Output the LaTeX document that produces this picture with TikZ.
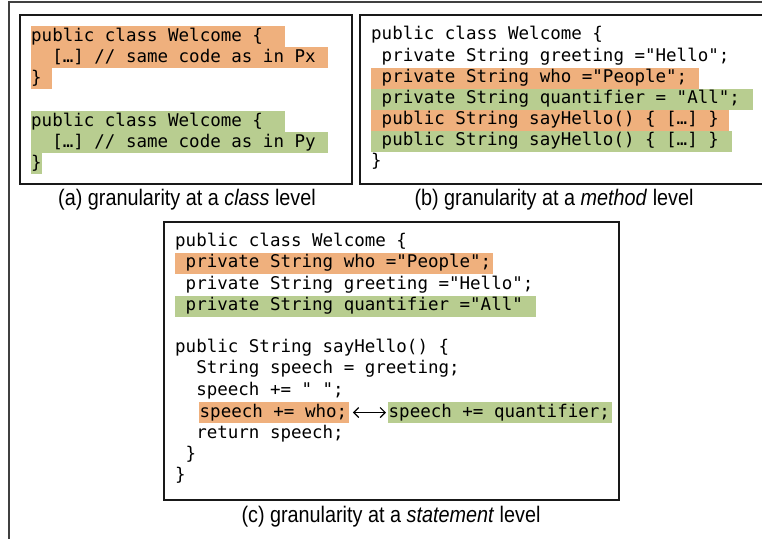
\documentclass[tikz,border=0pt]{standalone}
\usepackage{fontspec}
\setmonofont{DejaVu Sans Mono}
\newfontfamily\capfont[FakeStretch=0.88]{Liberation Sans}
\usepackage{xcolor}
\usetikzlibrary{arrows.meta, positioning}

\definecolor{hlorange}{RGB}{239,176,125}
\definecolor{hlgreen}{RGB}{184,205,144}

\begin{document}
\begin{tikzpicture}[
		x=1pt, y=-1pt,
		frame/.style={
			draw=black!75,
			line width=1.8pt
		},
		panel/.style={
			draw=black!90,
			line width=1.5pt
		},
		codeline/.style={
			anchor=west,
			inner sep=0pt,
			minimum height=21pt,
			text height=13pt,
			text depth=4pt,
			align=flush left,
			font=\ttfamily\fontsize{17.5}{21}\selectfont
		},
		px/.style={
			codeline,
			fill=hlorange
		},
		py/.style={
			codeline,
			fill=hlgreen
		},
		caption/.style={
			font=\capfont\fontsize{22.5}{26}\selectfont
		},
		arrow/.style={
			line width=1.2pt,
			{Straight Barb[length=5pt,width=10pt]}-{Straight Barb[length=5pt,width=10pt]},
			shorten <=4pt,
			shorten >=2pt
		}
	]
	
	\useasboundingbox (0,0) rectangle (762,539);
	\draw[frame] (762,2) -- (9,2) -- (9,539);
	
	% (a) class level
	\draw[panel] (20,15) rectangle (352,184);
	\node[px, text width=254pt] (a1) at (31,36.5) {public class Welcome \{};
	\node[px, text width=297pt] (a2) at (31,57.5) {~~[…] // same code as in Px};
	\node[px, text width=21pt] (a3) at (31,78.5) {\}};
	\node[py, text width=254pt] (a4) at (31,121.5) {public class Welcome \{};
	\node[py, text width=297pt] (a5) at (31,142.5) {~~[…] // same code as in Py};
	\node[py, text width=11pt] (a6) at (31,163.5) {\}};
	\node[caption] (capa) at (187,200) {(a) granularity at a \textit{class} level};
	
	% (b) method level
	\draw[panel] (762,15) -- (360,15) -- (360,184) -- (762,184);
	\node[codeline] (b1) at (371,35) {public class Welcome \{};
	\node[codeline] (b2) at (371,56.5) {~private String greeting ="Hello";};
	\node[px, text width=328pt] (b3) at (371,78) {~private String who ="People";};
	\node[py, text width=382pt] (b4) at (371,99) {~private String quantifier = "All";};
	\node[px, text width=358pt] (b5) at (371,120) {~public String sayHello() \{ […] \}};
	\node[py, text width=361pt] (b6) at (371,141) {~public String sayHello() \{ […] \}};
	\node[codeline] (b7) at (371,162) {\}};
	\node[caption] (capb) at (554,200) {(b) granularity at a \textit{method} level};
	
	% (c) statement level
	\draw[panel] (164,222) rectangle (619,500);
	\node[codeline] (c1) at (175,242) {public class Welcome \{};
	\node[px, text width=318pt] (c2) at (175,263) {~private String who ="People";};
	\node[codeline] (c3) at (175,284.5) {~private String greeting ="Hello";};
	\node[py, text width=361pt] (c4) at (175,306) {~private String quantifier ="All"};
	\node[codeline] (c5) at (175,348) {public String sayHello() \{};
	\node[codeline] (c6) at (175,369) {~~String speech = greeting;};
	\node[codeline] (c7) at (175,390.5) {~~speech += " ";};
	\node[px, inner xsep=0.5pt, text width=148.5pt] (c8) at (199,412.5) {speech += who;};
	\node[py, inner xsep=0.5pt, text width=222.5pt] (c9) at (388,412.5) {speech += quantifier;};
	\node[codeline] (c10) at (175,433.5) {~~return speech;};
	\node[codeline] (c11) at (175,455) {~\}};
	\node[codeline] (c12) at (175,476) {\}};
	\node[caption] (capc) at (391,517) {(c) granularity at a \textit{statement} level};
	
	\draw[arrow] (c8) -- (c9);
	
\end{tikzpicture}
\end{document}
